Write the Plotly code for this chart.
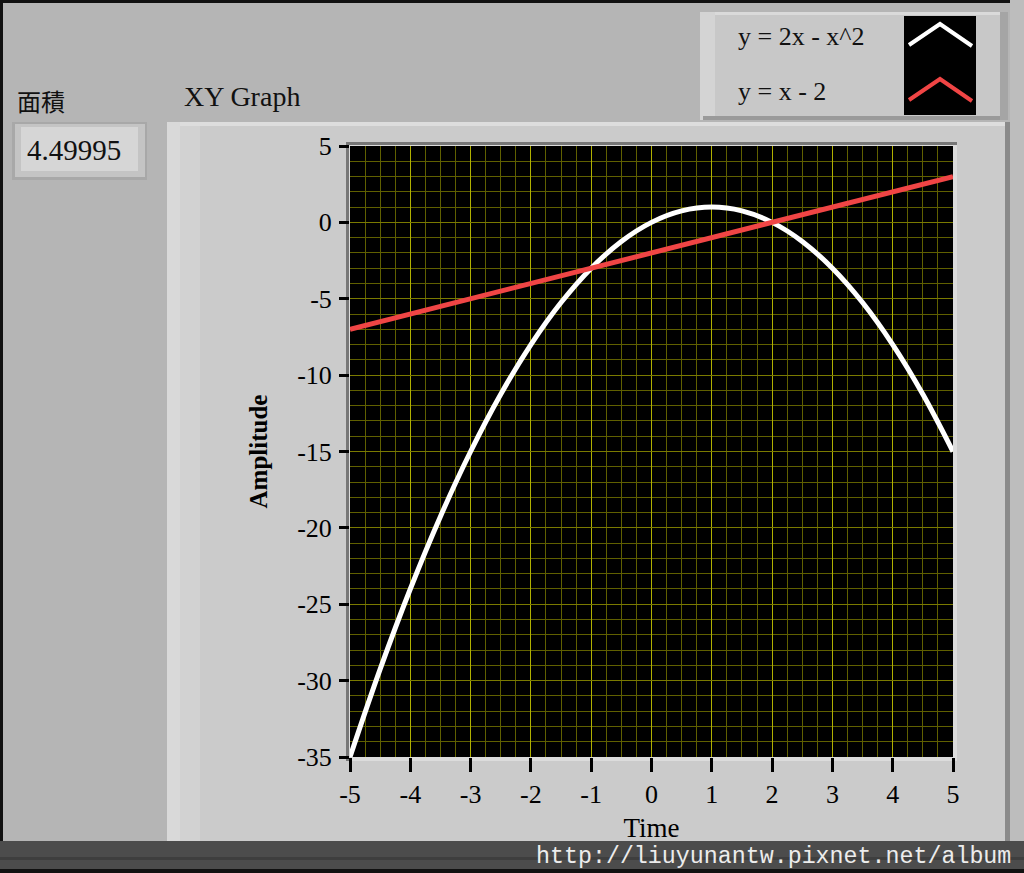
import plotly.graph_objects as go

# ---- data ----
x_vals = [-5, -4.5, -4, -3.5, -3, -2.5, -2, -1.5, -1, -0.5, 0, 0.5, 1, 1.5, 2, 2.5, 3, 3.5, 4, 4.5, 5]
y_parabola = [-35, -29.25, -24, -19.25, -15, -11.25, -8, -5.25, -3, -1.25, 0, 0.75, 1, 0.75, 0,
              -1.25, -3, -5.25, -8, -11.25, -15]
x_line = [-5, 5]
y_line = [-7, 3]
series_names = ["y = 2x - x^2", "y = x - 2"]
area_value = "4.49995"
x_ticks = [-5, -4, -3, -2, -1, 0, 1, 2, 3, 4, 5]
x_tick_labels = ["-5", "-4", "-3", "-2", "-1", "0", "1", "2", "3", "4", "5"]
y_ticks = [5, 0, -5, -10, -15, -20, -25, -30, -35]
y_tick_labels = ["5", "0", "-5", "-10", "-15", "-20", "-25", "-30", "-35"]

W, H = 1024, 873
def X(p):
    return p / W
def Y(p):
    return 1 - p / H

SERIF = "Liberation Serif, Times New Roman, serif"
RED = "#f04545"

fig = go.Figure()
fig.add_trace(go.Scatter(x=x_vals, y=y_parabola, mode="lines", name=series_names[0],
                         line=dict(color="white", width=5, shape="spline"), showlegend=False))
fig.add_trace(go.Scatter(x=x_line, y=y_line, mode="lines", name=series_names[1],
                         line=dict(color=RED, width=5), showlegend=False))

shapes = []
def rect(x0, y0, x1, y1, color, layer="below"):
    shapes.append(dict(type="rect", xref="paper", yref="paper", x0=X(x0), x1=X(x1), y0=Y(y1), y1=Y(y0),
                       fillcolor=color, line=dict(width=0), layer=layer))

# panel background pieces
rect(0, 0, 1024, 3, "#111111")
rect(0, 0, 3, 873, "#111111")
# graph frame
rect(167, 122, 1009, 862, "#cbcbcb")
rect(167, 122, 1009, 126, "#dddddd")
rect(167, 122, 180, 862, "#d9d9d9")
rect(180, 126, 200, 862, "#d2d2d2")
rect(1005, 122, 1010, 862, "#8a8a8a")
rect(1010, 0, 1024, 862, "#bdbdbd")
# legend panel
rect(700, 12, 1008, 120, "#c8c8c8")
rect(700, 12, 1008, 15, "#dadada")
rect(700, 12, 715, 120, "#d4d4d4")
rect(703, 116, 1008, 120, "#9a9a9a")
rect(1000, 12, 1008, 120, "#a5a5a5")
rect(904, 16, 976, 115, "#000000")
# numeric control
rect(12, 122, 147, 180, "#a8a8a8")
rect(15, 124, 145, 177, "#c4c4c4")
rect(21, 127, 138, 171, "#d6d6d6")
# plot area border and black plotting surface
rect(346, 142, 957, 761, "#dcdcdc")
rect(346, 142, 957, 145, "#777777")
rect(346, 142, 349, 761, "#777777")
rect(350, 146, 953, 757, "#000000")
# watermark bar
rect(0, 841, 1024, 870, "#4c4c4c")
rect(0, 857, 1024, 860, "#3e3e3e")
rect(0, 869, 1024, 873, "#111111")

# legend chevrons (icons)
def chevron(y_mid, color):
    shapes.append(dict(type="path", xref="paper", yref="paper",
                       path="M %f %f L %f %f L %f %f" % (X(909), Y(y_mid + 10), X(940), Y(y_mid - 11),
                                                         X(972), Y(y_mid + 11)),
                       line=dict(color=color, width=4), layer="above"))
chevron(35, "white")
chevron(90, RED)

annotations = [
    dict(text="面積", x=X(15), y=Y(100), xref="paper", yref="paper", xanchor="left", yanchor="middle",
         showarrow=False, font=dict(family="Noto Sans CJK TC", size=24, color="#111")),
    dict(text="XY Graph", x=X(182), y=Y(96), xref="paper", yref="paper", xanchor="left", yanchor="middle",
         showarrow=False, font=dict(family=SERIF, size=28, color="#111")),
    dict(text=area_value, x=X(25), y=Y(150), xref="paper", yref="paper", xanchor="left", yanchor="middle",
         showarrow=False, font=dict(family=SERIF, size=29, color="#111")),
    dict(text=series_names[0], x=X(736), y=Y(37), xref="paper", yref="paper", xanchor="left", yanchor="middle",
         showarrow=False, font=dict(family=SERIF, size=26, color="#111")),
    dict(text=series_names[1], x=X(736), y=Y(92), xref="paper", yref="paper", xanchor="left", yanchor="middle",
         showarrow=False, font=dict(family=SERIF, size=26, color="#111")),
    dict(text="http://liuyunantw.pixnet.net/album", x=X(1013), y=Y(857), xref="paper", yref="paper",
         xanchor="right", yanchor="middle", showarrow=False,
         font=dict(family="Liberation Mono, DejaVu Sans Mono, monospace", size=23.3, color="#ececec")),
]

fig.update_layout(
    width=W, height=H, autosize=False,
    margin=dict(l=0, r=0, t=0, b=0, pad=0),
    paper_bgcolor="#b5b5b5",
    plot_bgcolor="#000000",
    shapes=shapes,
    annotations=annotations,
    xaxis=dict(domain=[X(350), X(953)], range=[-5, 5], tickvals=x_ticks, ticktext=x_tick_labels,
               ticks="outside", ticklen=14, tickwidth=3, tickcolor="#000", automargin=False,
               showline=False, zeroline=False,
               showgrid=True, gridcolor="#b0b000", gridwidth=1,
               minor=dict(dtick=0.25, tick0=-5, showgrid=True, gridcolor="#606000", gridwidth=1, ticks=""),
               tickfont=dict(family=SERIF, size=26, color="#000"),
               title=dict(text="Time", font=dict(family=SERIF, size=27, color="#000"), standoff=9)),
    yaxis=dict(domain=[Y(757), Y(146)], range=[-35, 5], tickvals=y_ticks, ticktext=y_tick_labels,
               ticks="outside", ticklen=10, tickwidth=3, tickcolor="#000", automargin=False,
               showline=False, zeroline=False,
               showgrid=True, gridcolor="#7a7a00", gridwidth=1,
               minor=dict(dtick=1, tick0=0, showgrid=True, gridcolor="#606000", gridwidth=1, ticks=""),
               tickfont=dict(family=SERIF, size=26, color="#000"),
               ticklabelstandoff=2,
               title=dict(text="<b>Amplitude</b>", font=dict(family=SERIF, size=25, color="#000"), standoff=22)),
)

post = ("document.documentElement.style.margin='0';document.body.style.margin='0';"
        "document.body.style.overflow='hidden';document.documentElement.style.overflow='hidden';"
        "var gd=document.getElementById('{plot_id}');gd.style.position='absolute';"
        "gd.style.left='0px';gd.style.top='0px';")
fig.write_html("out.html", config={"displayModeBar": False}, post_script=post)
